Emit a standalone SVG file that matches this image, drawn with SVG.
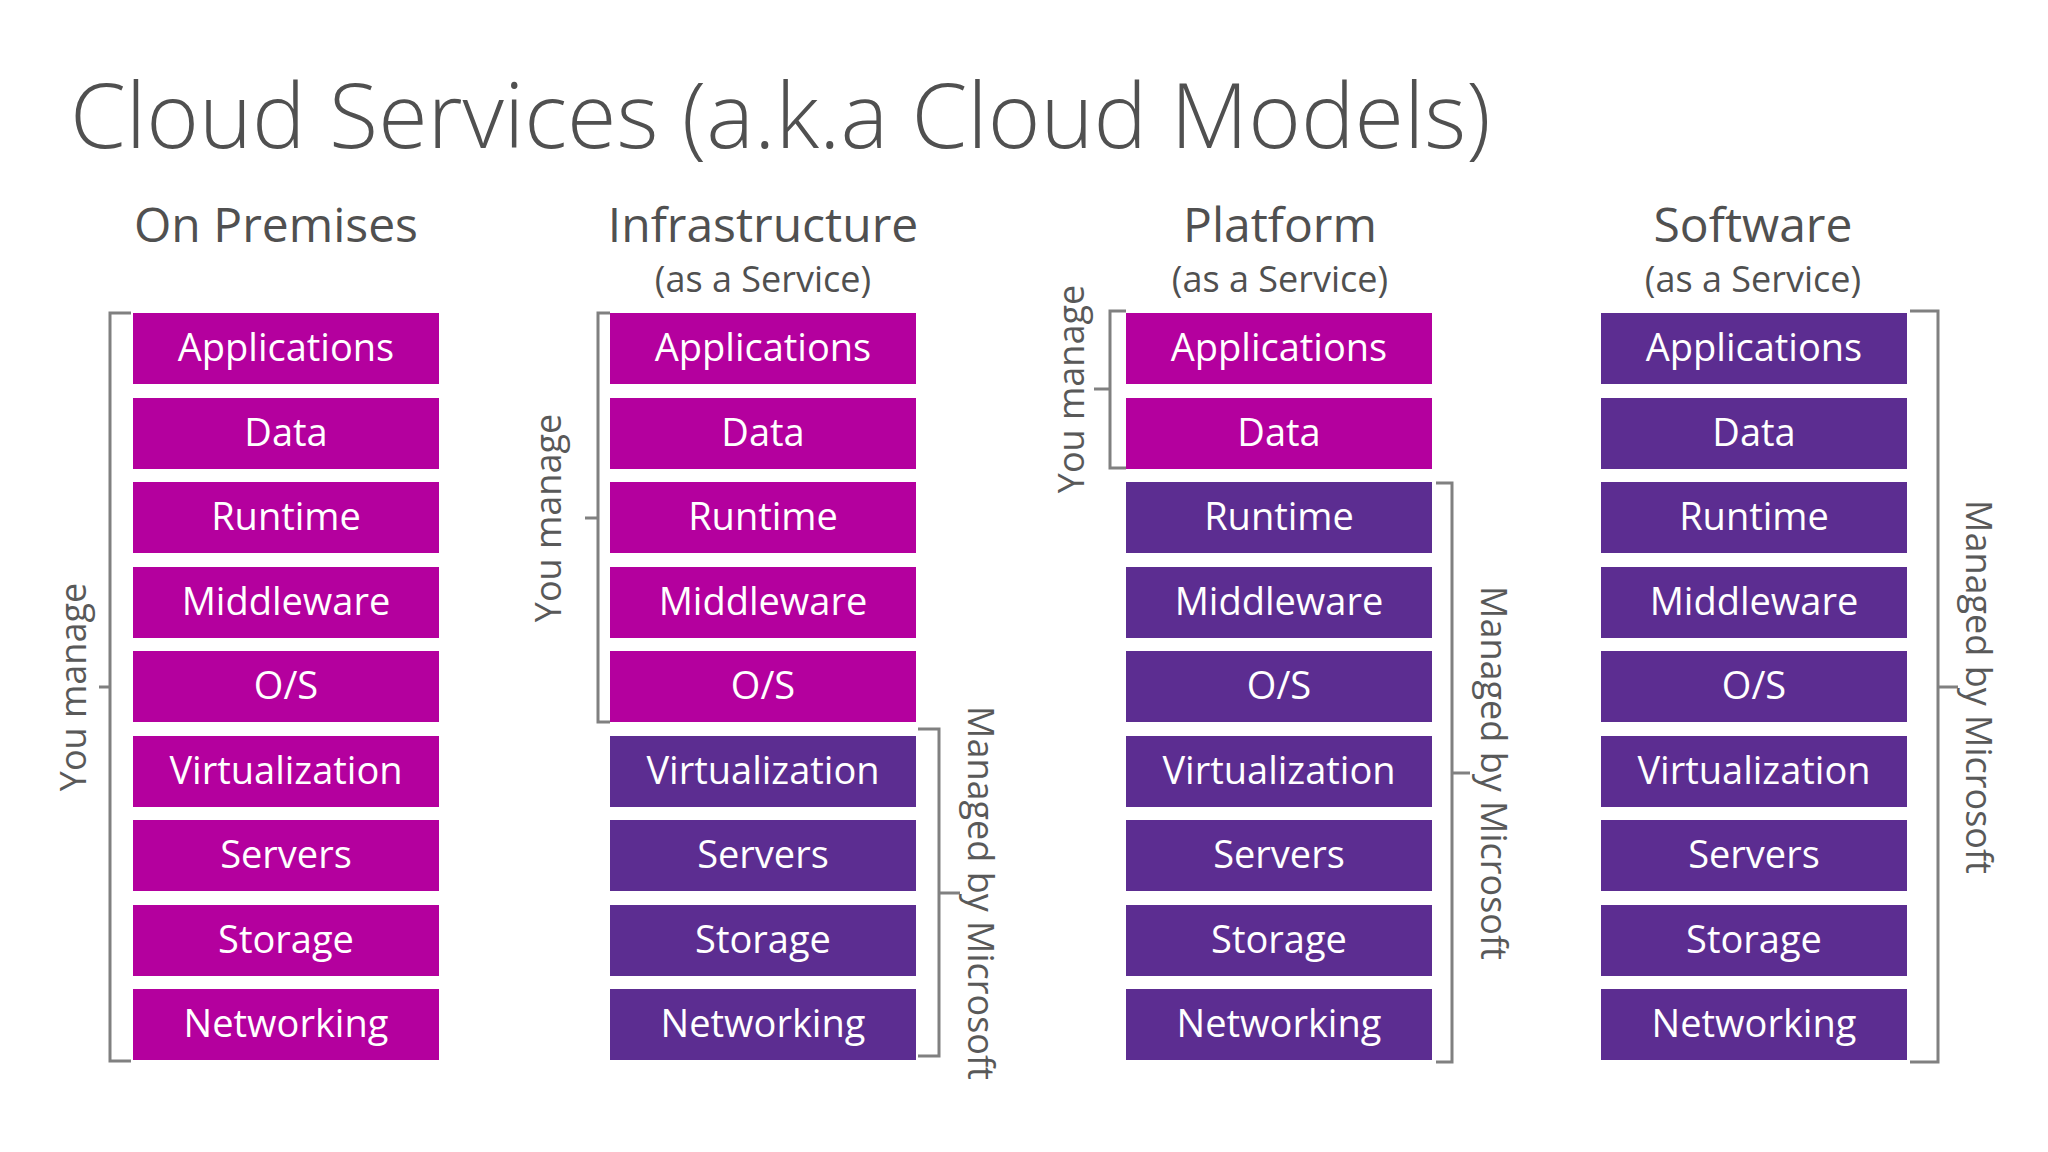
<svg xmlns="http://www.w3.org/2000/svg" width="2048" height="1152" viewBox="0 0 2048 1152">
<style>
text{font-family:"Open Sans","Noto Sans","Liberation Sans",sans-serif}
.t{font-size:90px;font-weight:300;fill:#505050}
.h{font-size:48px;fill:#505050;text-anchor:middle}
.s{font-size:36px;fill:#505050;text-anchor:middle}
.m{fill:#B4009E}.p{fill:#5C2D91}
.bt{fill:#fff;font-size:38px;text-anchor:middle}
.br{fill:none;stroke:#808080;stroke-width:3}
.l{font-size:36px;fill:#595959;text-anchor:middle}
</style>
<rect width="2048" height="1152" fill="#fff"/>
<text class="t" x="70" y="148">Cloud Services (a.k.a Cloud Models)</text>
<text class="h" x="276" y="242">On Premises</text>
<text class="h" x="763" y="242">Infrastructure</text>
<text class="s" x="763" y="292">(as a Service)</text>
<text class="h" x="1280" y="242">Platform</text>
<text class="s" x="1280" y="292">(as a Service)</text>
<text class="h" x="1753" y="242">Software</text>
<text class="s" x="1753" y="292">(as a Service)</text>
<g id="onprem">
<rect class="m" x="133" y="313" width="306" height="71"/><rect class="m" x="133" y="398" width="306" height="71"/><rect class="m" x="133" y="482" width="306" height="71"/><rect class="m" x="133" y="567" width="306" height="71"/><rect class="m" x="133" y="651" width="306" height="71"/><rect class="m" x="133" y="736" width="306" height="71"/><rect class="m" x="133" y="820" width="306" height="71"/><rect class="m" x="133" y="905" width="306" height="71"/><rect class="m" x="133" y="989" width="306" height="71"/>
<text class="bt" x="286" y="361">Applications</text><text class="bt" x="286" y="446">Data</text><text class="bt" x="286" y="530">Runtime</text><text class="bt" x="286" y="615">Middleware</text><text class="bt" x="286" y="699">O/S</text><text class="bt" x="286" y="784">Virtualization</text><text class="bt" x="286" y="868">Servers</text><text class="bt" x="286" y="953">Storage</text><text class="bt" x="286" y="1037">Networking</text>
</g>
<g id="iaas" transform="translate(477,0)">
<rect class="m" x="133" y="313" width="306" height="71"/><rect class="m" x="133" y="398" width="306" height="71"/><rect class="m" x="133" y="482" width="306" height="71"/><rect class="m" x="133" y="567" width="306" height="71"/><rect class="m" x="133" y="651" width="306" height="71"/><rect class="p" x="133" y="736" width="306" height="71"/><rect class="p" x="133" y="820" width="306" height="71"/><rect class="p" x="133" y="905" width="306" height="71"/><rect class="p" x="133" y="989" width="306" height="71"/>
<text class="bt" x="286" y="361">Applications</text><text class="bt" x="286" y="446">Data</text><text class="bt" x="286" y="530">Runtime</text><text class="bt" x="286" y="615">Middleware</text><text class="bt" x="286" y="699">O/S</text><text class="bt" x="286" y="784">Virtualization</text><text class="bt" x="286" y="868">Servers</text><text class="bt" x="286" y="953">Storage</text><text class="bt" x="286" y="1037">Networking</text>
</g>
<g id="paas" transform="translate(993,0)">
<rect class="m" x="133" y="313" width="306" height="71"/><rect class="m" x="133" y="398" width="306" height="71"/><rect class="p" x="133" y="482" width="306" height="71"/><rect class="p" x="133" y="567" width="306" height="71"/><rect class="p" x="133" y="651" width="306" height="71"/><rect class="p" x="133" y="736" width="306" height="71"/><rect class="p" x="133" y="820" width="306" height="71"/><rect class="p" x="133" y="905" width="306" height="71"/><rect class="p" x="133" y="989" width="306" height="71"/>
<text class="bt" x="286" y="361">Applications</text><text class="bt" x="286" y="446">Data</text><text class="bt" x="286" y="530">Runtime</text><text class="bt" x="286" y="615">Middleware</text><text class="bt" x="286" y="699">O/S</text><text class="bt" x="286" y="784">Virtualization</text><text class="bt" x="286" y="868">Servers</text><text class="bt" x="286" y="953">Storage</text><text class="bt" x="286" y="1037">Networking</text>
</g>
<g id="saas" transform="translate(1468,0)">
<rect class="p" x="133" y="313" width="306" height="71"/><rect class="p" x="133" y="398" width="306" height="71"/><rect class="p" x="133" y="482" width="306" height="71"/><rect class="p" x="133" y="567" width="306" height="71"/><rect class="p" x="133" y="651" width="306" height="71"/><rect class="p" x="133" y="736" width="306" height="71"/><rect class="p" x="133" y="820" width="306" height="71"/><rect class="p" x="133" y="905" width="306" height="71"/><rect class="p" x="133" y="989" width="306" height="71"/>
<text class="bt" x="286" y="361">Applications</text><text class="bt" x="286" y="446">Data</text><text class="bt" x="286" y="530">Runtime</text><text class="bt" x="286" y="615">Middleware</text><text class="bt" x="286" y="699">O/S</text><text class="bt" x="286" y="784">Virtualization</text><text class="bt" x="286" y="868">Servers</text><text class="bt" x="286" y="953">Storage</text><text class="bt" x="286" y="1037">Networking</text>
</g>
<g id="brackets">
<path class="br" d="M131 313H110V1061H131M110 687H99"/>
<text class="l" transform="translate(86,687) rotate(-90)">You manage</text>
<path class="br" d="M610 313H598V722H610M598 518H585"/>
<text class="l" transform="translate(561,518) rotate(-90)">You manage</text>
<path class="br" d="M918 729H939V1056H918M939 893H960"/>
<text class="l" transform="translate(968,893) rotate(90)">Managed by Microsoft</text>
<path class="br" d="M1126 311H1110V468H1126M1110 389H1094"/>
<text class="l" transform="translate(1084,389) rotate(-90)">You manage</text>
<path class="br" d="M1436 483H1452V1062H1436M1452 773H1470"/>
<text class="l" transform="translate(1481,773) rotate(90)">Managed by Microsoft</text>
<path class="br" d="M1910 311H1938V1062H1910M1938 687H1958"/>
<text class="l" transform="translate(1966,687) rotate(90)">Managed by Microsoft</text>
</g>
</svg>
